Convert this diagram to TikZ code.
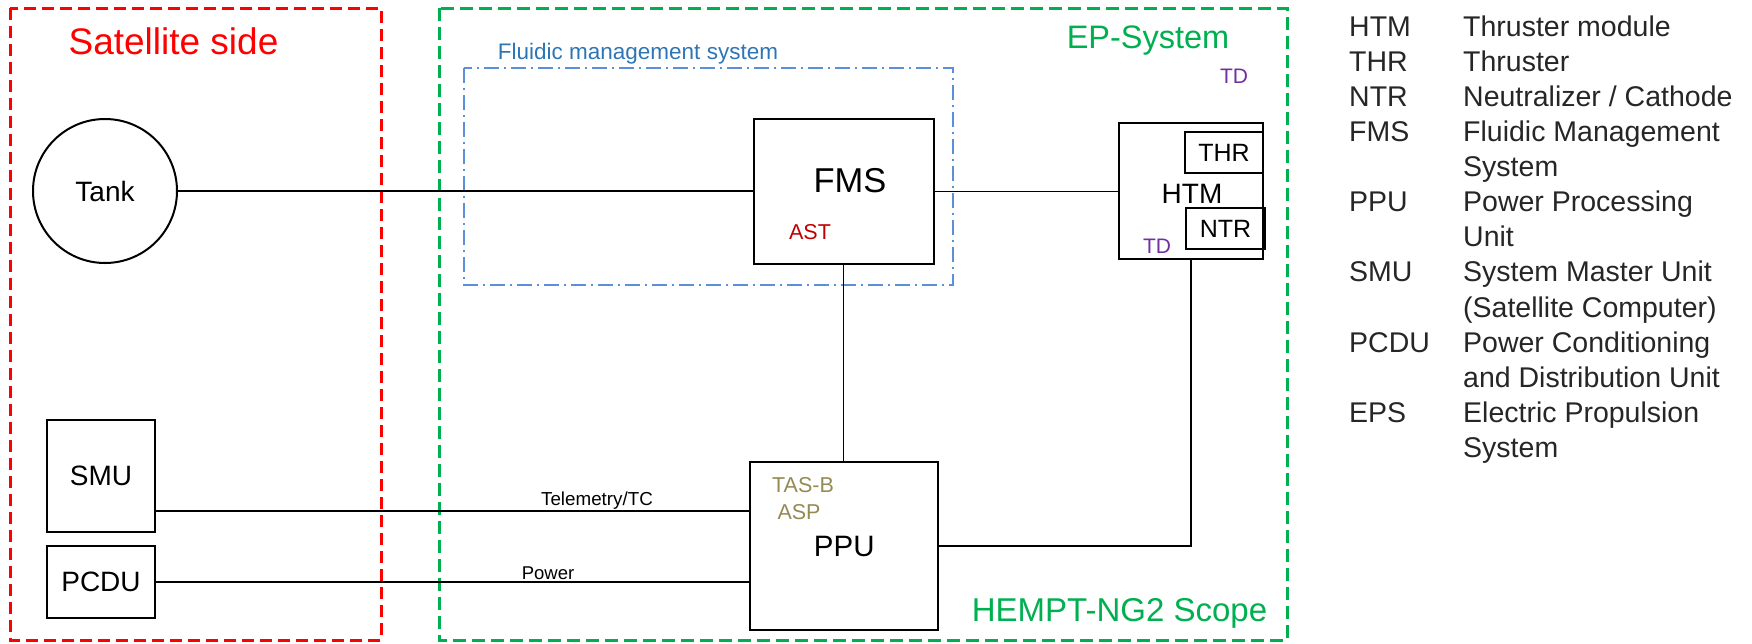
\documentclass[tikz,border=0pt]{standalone}
\usepackage{fontspec}
\setmainfont{Liberation Sans}
\definecolor{satred}{HTML}{FF0000}
\definecolor{epgreen}{HTML}{00B050}
\definecolor{fmsblue}{HTML}{5B8FD9}
\definecolor{fmstext}{HTML}{2E75B6}
\definecolor{astred}{HTML}{C00000}
\definecolor{tdpurple}{HTML}{7030A0}
\definecolor{oliveclr}{HTML}{948A54}
\definecolor{legendgray}{HTML}{262626}
\newcommand\fsz[1]{\fontsize{#1}{#1}\selectfont}
\begin{document}
\begin{tikzpicture}[x=1pt,y=-1pt,
  box/.style={draw=black, line width=2pt, inner sep=0pt},
  conn/.style={draw=black, line width=1.8pt},
  txt/.style={anchor=base, inner sep=0pt},
  satframe/.style={draw=satred, line width=3pt, dash pattern=on 12pt off 6pt},
  epframe/.style={draw=epgreen, line width=3pt, dash pattern=on 13pt off 6pt},
  fmsframe/.style={draw=fmsblue, line width=1.6pt, dash pattern=on 15pt off 5pt on 2pt off 5pt},
]
\useasboundingbox (0,0) rectangle (1752,643);

% frames
\draw[satframe] (10,8) rectangle (381,640);
\draw[epframe] (439,8) rectangle (1287,640);
\draw[fmsframe] (464,68) rectangle (953,285);

% frame labels
\node[txt, font=\fsz{37}, text=satred] (satlbl) at (173.5,54) {Satellite side};
\node[txt, font=\fsz{32.5}, text=epgreen] (eplbl) at (1148,48) {EP-System};
\node[txt, font=\fsz{33}, text=epgreen] (scopelbl) at (1119.5,621) {HEMPT-NG2 Scope};
\node[txt, font=\fsz{22.5}, text=fmstext] (fmsyslbl) at (638,59) {Fluidic management system};

% satellite side
\node[box, circle, minimum size=144pt, font=\fsz{28}] (tank) at (105,191) {Tank};
\node[box, minimum width=108pt, minimum height=112pt, font=\fsz{28}] (smu) at (101,476) {SMU};
\node[box, minimum width=108pt, minimum height=72pt, font=\fsz{28}] (pcdu) at (101,582) {PCDU};

% FMS
\node[box, minimum width=180pt, minimum height=145pt] (fms) at (843.5,191.5) {};
\node[txt, font=\fsz{34.5}] (fmslbl) at (850,192) {FMS};
\node[txt, font=\fsz{21.5}, text=astred] (ast) at (810,239) {AST};

% HTM
\node[box, minimum width=144pt, minimum height=136pt] (htm) at (1191,191) {};
\node[box, minimum width=78pt, minimum height=41pt, font=\fsz{25}] (thr) at (1224,152.5) {THR};
\node[box, minimum width=79pt, minimum height=41pt, font=\fsz{25}] (ntr) at (1225.5,228.5) {NTR};
\node[txt, font=\fsz{28}] (htmlbl) at (1192,203) {HTM};
\node[txt, font=\fsz{21}, text=tdpurple] (tdhtm) at (1157,253) {TD};
\node[txt, font=\fsz{21}, text=tdpurple] (tdtop) at (1234,83) {TD};

% PPU
\node[box, minimum width=188pt, minimum height=168pt] (ppu) at (844.4,546) {};
\node[txt, font=\fsz{29.5}] (ppulbl) at (844.3,556) {PPU};
\node[txt, font=\fsz{21.5}, text=oliveclr] (tasb) at (803,492) {TAS-B};
\node[txt, font=\fsz{21.5}, text=oliveclr] (asp) at (799,519) {ASP};

% connectors
\draw[conn] (tank.east) -- (fms.west |- tank.east);
\draw[conn] (fms.east) -- (htm.west |- fms.east);
\draw[conn] (fms.south) -- (ppu.north -| fms.south);
\draw[conn] (htm.south) |- (ppu.east);
\coordinate (tmrow) at (0,511);
\draw[conn] (smu.east |- tmrow) -- (ppu.west |- tmrow);
\draw[conn] (pcdu.east) -- (ppu.west |- pcdu.east);
\node[txt, font=\fsz{18.8}] (tmlbl) at (597,505) {Telemetry/TC};
\node[txt, font=\fsz{18.5}] (pwrlbl) at (548,579) {Power};

% legend
\node[anchor=north west, inner sep=0pt, text=legendgray, font=\fontsize{28.5}{35.1}\selectfont] (legend) at (1349,11.43) {%
\begin{tabular}{@{}p{114pt}@{}l@{}}
HTM & Thruster module\\
THR & Thruster\\
NTR & Neutralizer / Cathode\\
FMS & Fluidic Management\\
    & System\\
PPU & Power Processing\\
    & Unit\\
SMU & System Master Unit\\
    & (Satellite Computer)\\
PCDU & Power Conditioning\\
     & and Distribution Unit\\
EPS & Electric Propulsion\\
    & System
\end{tabular}};
\end{tikzpicture}
\end{document}
